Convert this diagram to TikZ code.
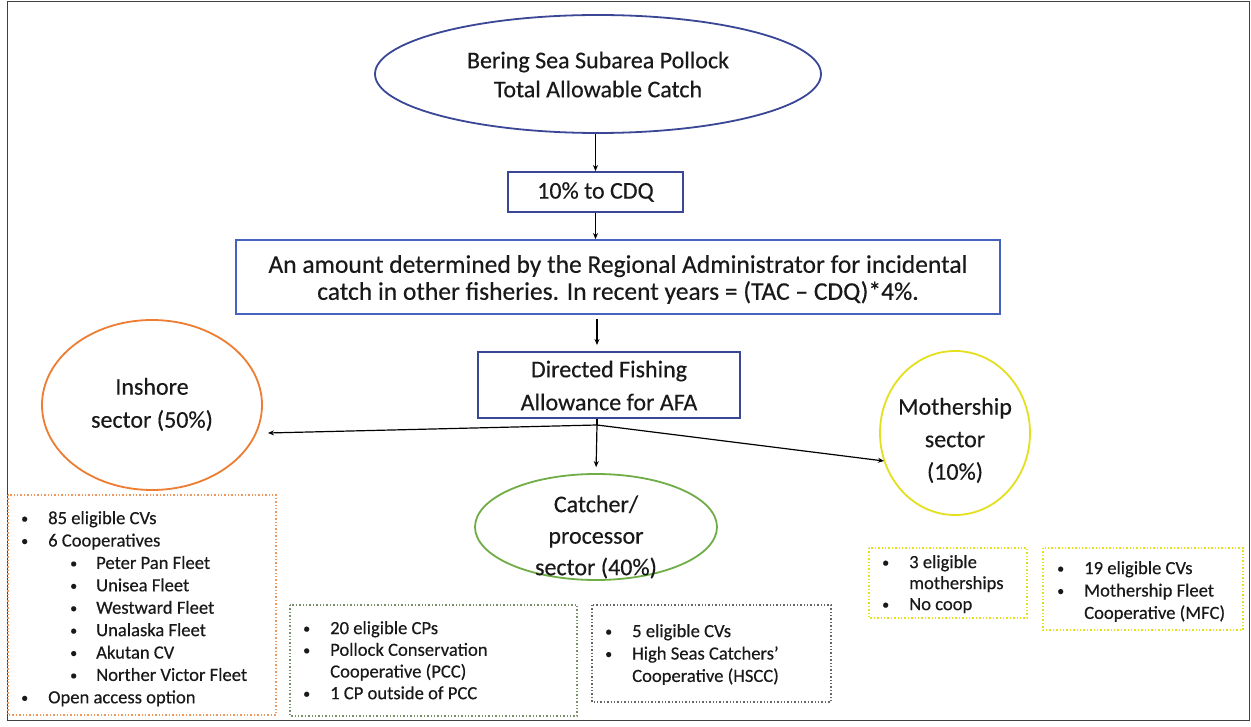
\documentclass[tikz,border=0pt]{standalone}
\usepackage{fontspec}
\setmainfont{Carlito}[FakeBold=0.35]
\usetikzlibrary{shapes.geometric,arrows.meta}
\definecolor{navy}{RGB}{58,70,150}
\definecolor{boxblue}{RGB}{68,98,190}
\definecolor{inorange}{RGB}{237,125,49}
\definecolor{cpgreen}{RGB}{112,173,71}
\definecolor{msyellow}{RGB}{228,224,30}
\definecolor{txt}{RGB}{25,25,25}
% list bullets: a small dot in a fixed-width column
\newcommand\dotmark{\raisebox{1pt}{\fontsize{14}{14}\selectfont\textbullet}}
\newcommand\bl{\makebox[28pt][l]{\hspace*{1pt}\dotmark}}
\newcommand\ind{\hspace*{28pt}}
\newcommand\sbl{\hspace*{49pt}\makebox[27pt][l]{\hspace*{1pt}\dotmark}}
\begin{document}
\begin{tikzpicture}[x=1pt,y=-1pt,
  every node/.style={text=txt},
  oval/.style={ellipse, line width=1.8pt},
  stage/.style={draw=navy, line width=1.8pt, inner sep=0pt},
  big/.style={font=\fontsize{24}{29}\selectfont, align=center},
  mid/.style={font=\fontsize{24}{33}\selectfont, align=center},
  list/.style={font=\fontsize{18.6}{22.4}\selectfont, align=left, inner sep=0pt, anchor=north west},
  dotbox/.style={dotted, line width=1.4pt},
  flow/.style={line width=1.2pt, -{Stealth[length=6pt,width=5pt]}},
  frame/.style={draw=black!75, line width=1pt}]
\useasboundingbox (0,0) rectangle (1251,727);
\fill[white] (0,0) rectangle (1251,727);
\draw[frame] (7,2) rectangle (1249,720);

% total allowable catch
\node[oval, draw=navy, minimum width=446pt, minimum height=118pt] (tac) at (598,74) {};
\node[big] (tact) at (598,74.5) {Bering Sea Subarea Pollock\\Total Allowable Catch};

% deductions
\node[stage, minimum width=175pt, minimum height=40pt] (cdq) at (595.5,192) {};
\node[big] (cdqt) at (595.5,192) {10\% to CDQ};
\node[stage, draw=boxblue, minimum width=764pt, minimum height=74pt] (inc) at (618,277) {};
\node[big, font=\fontsize{25.5}{27}\selectfont] (inct) at (618,279.5) {An amount determined by the Regional Administrator for incidental\\catch in other fisheries. In recent years = (TAC -- CDQ)*4\%.};
\node[stage, minimum width=262pt, minimum height=66pt] (dfa) at (609,385) {};
\node[mid] (dfat) at (609,385.5) {Directed Fishing\\Allowance for AFA};

\coordinate (split) at (597,425);
\coordinate (insEnd) at (268,433);
\coordinate (msEnd) at (884,461);
\coordinate (incOut) at (597,319);
\coordinate (dfaIn) at (597,345);

\draw[flow] (tac.south -| cdq.north) -- (cdq.north);
\draw[flow] (cdq.south) -- (cdq.south |- inc.north);
\draw[flow] (incOut) -- (dfaIn);

% sectors
\node[oval, draw=inorange, minimum width=220pt, minimum height=170pt] (ins) at (152,405) {};
\node[mid] (inst) at (152,404.5) {Inshore\\sector (50\%)};
\node[oval, draw=cpgreen, minimum width=242pt, minimum height=106pt] (cp) at (596,527) {};
\node[mid, font=\fontsize{24}{31.5}\selectfont] (cpt) at (596,537) {Catcher/\\processor\\sector (40\%)};
\node[oval, draw=msyellow, minimum width=150pt, minimum height=164pt] (ms) at (955,433) {};
\node[mid, font=\fontsize{24}{32.5}\selectfont] (mst) at (955,440.5) {Mothership\\sector\\(10\%)};

\draw[line width=1.2pt] (dfa.south -| split) -- (split);
\draw[flow] (split) -- (insEnd);
\draw[flow] (split) -- (msEnd);
\draw[flow, shorten >=6pt] (split) -- (cp.north);

% sector details
\draw[dotbox, draw=inorange!80] (8,495) rectangle (276,715);
\node[list] (insl) at (20,511) {\bl 85 eligible CVs\\ \bl 6 Cooperatives\\
 \sbl Peter Pan Fleet\\ \sbl Unisea Fleet\\ \sbl Westward Fleet\\ \sbl Unalaska Fleet\\
 \sbl Akutan CV\\ \sbl Norther Victor Fleet\\ \bl Open access option};

\draw[dotbox, draw=cpgreen!55!black!70] (290,605) rectangle (577,716);
\node[list, font=\fontsize{18.6}{21.7}\selectfont] (cpl) at (302,621) {\bl 20 eligible CPs\\ \bl Pollock Conservation\\ \ind Cooperative (PCC)\\ \bl 1 CP outside of PCC};

\draw[dotbox, draw=black!60] (592,605) rectangle (831,702);
\node[list] (hsl) at (604,624) {\bl 5 eligible CVs\\ \bl High Seas Catchers'\\ \ind Cooperative (HSCC)};

\draw[dotbox, draw=msyellow] (869,548) rectangle (1027,618);
\node[list, font=\fontsize{18.6}{21}\selectfont] (msl) at (881,555) {\bl 3 eligible\\ \ind motherships\\ \bl No coop};

\draw[dotbox, draw=msyellow] (1043,548) rectangle (1243,630);
\node[list] (mfl) at (1056,561) {\bl 19 eligible CVs\\ \bl Mothership Fleet\\ \ind Cooperative (MFC)};
\end{tikzpicture}
\end{document}
